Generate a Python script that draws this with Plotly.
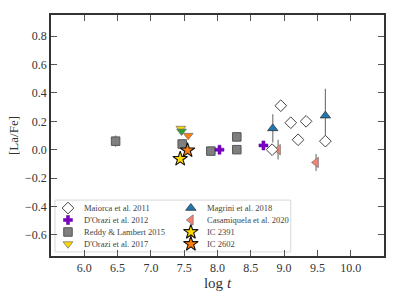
import plotly.graph_objects as go

# ---------------- data ----------------
maiorca_x = [8.82, 8.95, 9.10, 9.21, 9.33, 9.62]
maiorca_y = [0.00, 0.31, 0.19, 0.07, 0.20, 0.06]

dorazi12_x = [8.03, 8.69]
dorazi12_y = [0.00, 0.03]

reddy_x = [6.47, 7.47, 7.90, 8.29, 8.29]
reddy_y = [0.06, 0.04, -0.01, 0.09, 0.00]
reddy_err = [0.04, 0.02, 0.02, 0.03, 0.03]

dorazi17_x = [7.45, 7.46, 7.56]
dorazi17_y = [0.15, 0.13, 0.10]
dorazi17_colors = ["#FFD700", "#2CA02C", "#FF7F0E"]

magrini_x = [8.83, 9.62]
magrini_y = [0.15, 0.24]
magrini_err = [0.10, 0.19]

casam_x = [8.91, 9.48]
casam_y = [0.00, -0.09]
casam_err = [0.07, 0.06]

ic2391_x = [7.44]
ic2391_y = [-0.065]
ic2602_x = [7.55]
ic2602_y = [-0.005]

x_ticks = [6.0, 6.5, 7.0, 7.5, 8.0, 8.5, 9.0, 9.5, 10.0]
y_ticks = [-0.6, -0.4, -0.2, 0.0, 0.2, 0.4, 0.6, 0.8]

legend_labels = [
    "Maiorca et al. 2011", "D'Orazi et al. 2012", "Reddy &amp; Lambert 2015", "D'Orazi et al. 2017",
    "Magrini et al. 2018", "Casamiquela et al. 2020", "IC 2391", "IC 2602",
]

# ---------------- styles ----------------
ERR = dict(type="data", color="#7A7A7A", thickness=1.2, width=0)
styles = [
    dict(symbol="diamond", size=9, color="white", line=dict(color="#444", width=1)),
    dict(symbol="cross", size=7.5, color="#7B00C8", line=dict(color="#5A0090", width=0.5)),
    dict(symbol="square", size=8.5, color="#7F7F7F", line=dict(color="#555", width=1)),
    dict(symbol="triangle-down", size=8.5, color="#FFD700", line=dict(color="#777", width=0.8)),
    dict(symbol="triangle-up", size=9, color="#1F77B4", line=dict(color="#333", width=0.8)),
    dict(symbol="triangle-left", size=9, color="#FA8072", line=dict(color="#777", width=0.8)),
    dict(symbol="star", size=11, color="#FFD700", line=dict(color="#111", width=1.1)),
    dict(symbol="star", size=11, color="#FF7F0E", line=dict(color="#111", width=1.1)),
]

fig = go.Figure()

def add(x, y, st, err=None, colors=None):
    m = dict(st)
    if colors is not None:
        m["color"] = colors
    tr = go.Scatter(x=x, y=y, mode="markers", marker=m, showlegend=False)
    if err is not None:
        tr.error_y = dict(ERR, array=err)
    fig.add_trace(tr)

add(reddy_x, reddy_y, styles[2], err=reddy_err)
add(magrini_x, magrini_y, styles[4], err=magrini_err)
add(casam_x, casam_y, styles[5], err=casam_err)
add(maiorca_x, maiorca_y, styles[0])
add(dorazi12_x, dorazi12_y, styles[1])
add(dorazi17_x, dorazi17_y, styles[3], colors=dorazi17_colors)
add(ic2602_x, ic2602_y, styles[7])
add(ic2391_x, ic2391_y, styles[6])

# ---------------- manual two-column legend ----------------
FONT = "Liberation Serif, DejaVu Serif, serif"
leg_x0, leg_x1, leg_y0, leg_y1 = 0.012, 0.72, 0.017, 0.232
row_top, row_step = 0.199, 0.0497
col_marker = [0.051, 0.420]
col_text = [0.093, 0.463]

fig.add_shape(type="rect", xref="paper", yref="paper", x0=leg_x0, x1=leg_x1, y0=leg_y0, y1=leg_y1,
              line=dict(color="#D8D8D8", width=1), fillcolor="rgba(255,255,255,0.85)", layer="below")

for i, (lab, st) in enumerate(zip(legend_labels, styles)):
    col, row = divmod(i, 4)
    yy = row_top - row * row_step
    fig.add_trace(go.Scatter(x=[col_marker[col]], y=[yy], mode="markers", marker=st,
                             xaxis="x2", yaxis="y2", showlegend=False, hoverinfo="skip"))
    fig.add_annotation(x=col_text[col], y=yy, xref="paper", yref="paper", text=lab,
                       showarrow=False, xanchor="left", yanchor="middle",
                       font=dict(family=FONT, size=8.5, color="#444"))

axis_common = dict(showline=True, linecolor="#333", linewidth=1.5, mirror="ticks", ticks="inside",
                   ticklen=6, tickwidth=1, tickcolor="#555", showgrid=False, zeroline=False,
                   tickfont=dict(family=FONT, size=12, color="#333"))

fig.update_layout(
    width=399, height=302,
    margin=dict(l=51, r=15, t=15, b=46),
    paper_bgcolor="white", plot_bgcolor="white",
    hovermode=False,
    xaxis=dict(axis_common, range=[5.5, 10.5], tickvals=x_ticks, tickformat=".1f",
               title=dict(text="log <i>t</i>", font=dict(family=FONT, size=15, color="#333"), standoff=2)),
    yaxis=dict(axis_common, range=[-0.75, 0.95], tickvals=y_ticks, tickformat=".1f",
               title=dict(text="[La/Fe]", font=dict(family=FONT, size=13, color="#333"), standoff=4)),
    xaxis2=dict(range=[0, 1], domain=[0, 1], overlaying="x", visible=False, anchor="y2"),
    yaxis2=dict(range=[0, 1], domain=[0, 1], overlaying="y", visible=False, anchor="x2"),
    showlegend=False,
)

fig.write_html("out.html", config={"displayModeBar": False},
               post_script="document.body.style.margin='0';")
